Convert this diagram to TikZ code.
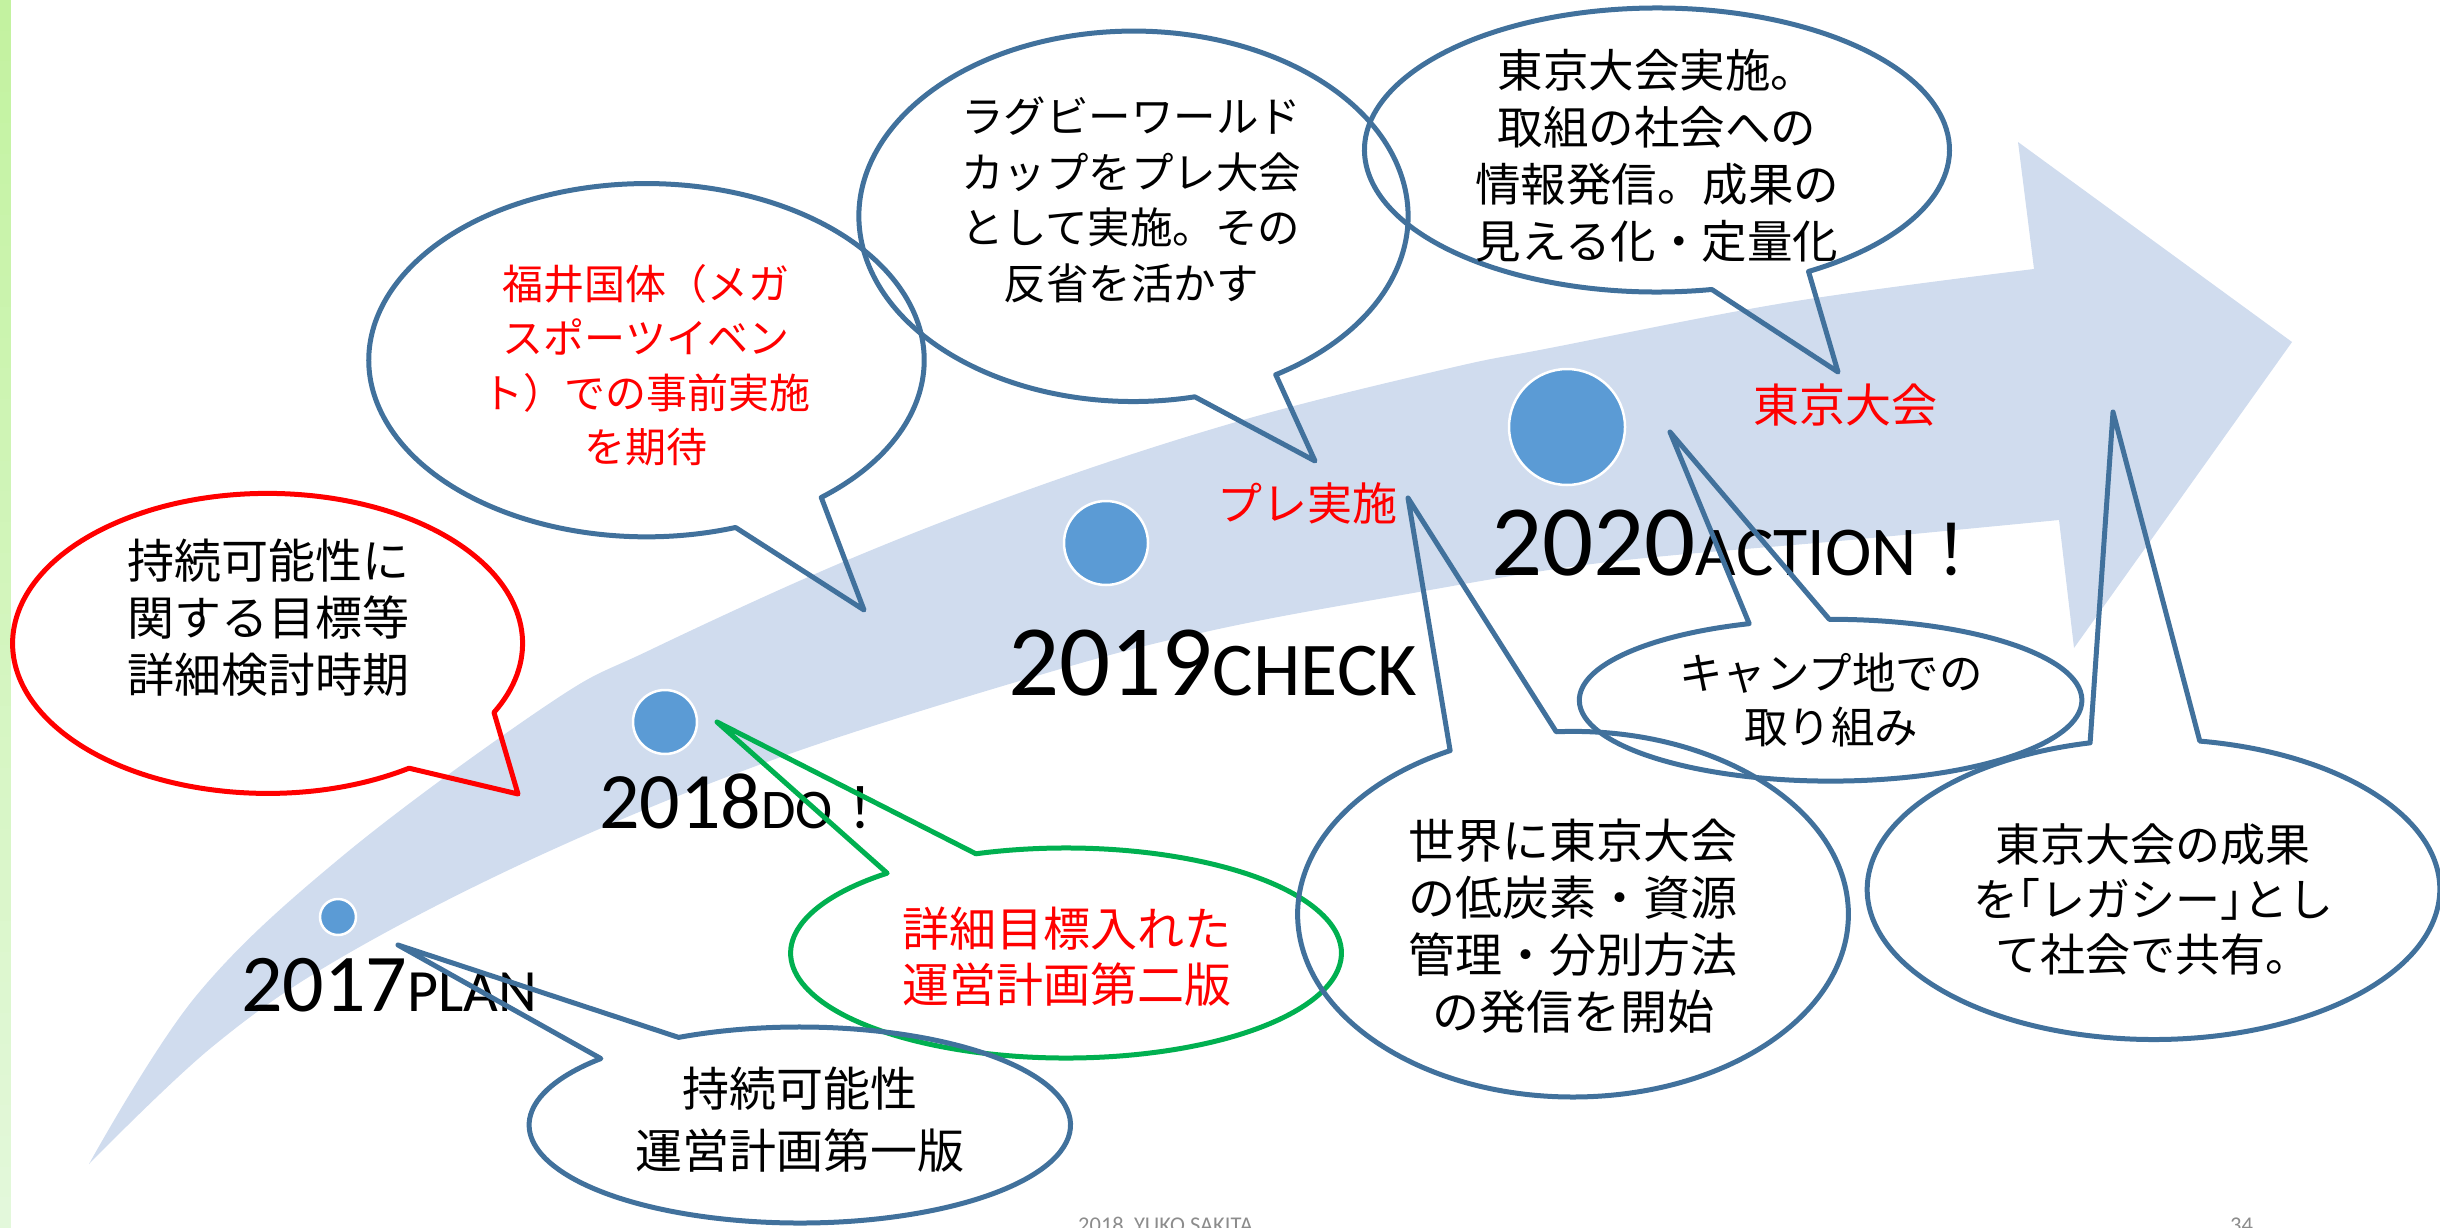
\documentclass[tikz,border=0pt]{standalone}
\usepackage{fontspec}
\setmainfont{Carlito}
\newfontfamily\jp{Noto Sans CJK JP}
\newfontfamily\latf{Carlito}
\definecolor{bandblue}{HTML}{D0DCEE}
\definecolor{dotblue}{HTML}{5B9BD5}
\definecolor{lineblue}{HTML}{41719C}
\definecolor{lred}{HTML}{FF0000}
\definecolor{lgreen}{HTML}{00B050}
\definecolor{striptop}{HTML}{C3F2A0}
\definecolor{stripbot}{HTML}{E4F8DC}
\definecolor{footgray}{HTML}{8C8C8C}
\newcommand\callshape[9]{\draw[#1] (#2,#3) ++(#6:#4 and #5) arc[start angle=#6, end angle=#7, x radius=#4, y radius=#5] -- (#8,#9) -- cycle;}
\newcommand\jfs[2]{\jp\fontsize{#1}{#2}\selectfont}
\begin{document}
\begin{tikzpicture}[x=1pt,y=1pt,yscale=-1,
  cblue/.style={draw=lineblue, line width=5pt, line join=round},
  cred/.style={draw=lred, line width=5pt, line join=round},
  cgreen/.style={draw=lgreen, line width=5pt, line join=round},
  dotnode/.style={circle, fill=dotblue, draw=white, line width=2.5pt, inner sep=0pt},
  jtext/.style={align=center, inner sep=0pt},
  yearlabel/.style={anchor=base west, inner sep=0pt}]
\useasboundingbox (0,0) rectangle (2440,1228);
\clip (0,0) rectangle (2440,1228);
% green strip
\foreach \i in {0,...,39} {
  \pgfmathsetmacro\pc{100-\i*2.5}
  \fill[striptop!\pc!stripbot] (0,{\i*30.7}) rectangle (11,{\i*30.7+31.5});
}
% band arrow
\fill[bandblue] plot[smooth, tension=0.6] coordinates {(89,1164) (196,996) (345,854) (550,703) (650,650) (850,559) (1050,482) (1250,418) (1450,368) (1550,348) (1790,302) (2034,269)}
  -- (2018,142) -- (2292,342) -- (2074,648) -- (2059,520)
  -- plot[smooth, tension=0.6] coordinates {(2059,520) (1850,540) (1600,563) (1396,596) (1214,630) (1050,672) (778,758) (543,854) (342,957) (212,1047) (89,1164)} -- cycle;
% dots
\node[dotnode, minimum size=36pt] (d17) at (338,917) {};
\node[dotnode, minimum size=64pt] (d18) at (665,722) {};
\node[dotnode, minimum size=84pt] (d19) at (1106,543) {};
\node[dotnode, minimum size=116pt] (d20) at (1567,427) {};
% year labels
\node[yearlabel] (y17) at (241,1011) {\latf\fontsize{82}{82}\selectfont 2017\fontsize{60}{60}\selectfont PLAN};
\node[yearlabel] (y18) at (599,828) {\latf\fontsize{80}{80}\selectfont 2018\fontsize{56}{56}\selectfont DO{\jp ！}};
\node[yearlabel] (y19) at (1008,695) {\latf\fontsize{101}{101}\selectfont 2019\fontsize{76}{76}\selectfont CHECK};
\node[yearlabel] (y20) at (1491,575) {\latf\fontsize{101}{101}\selectfont 2020\fontsize{70}{70}\selectfont ACTION{\jp ！}};
% callout shapes
\callshape{cred}{267.6}{643.4}{255}{150}{56.3}{387.4}{518}{794}
\callshape{cblue}{646.5}{360.2}{277.7}{176.6}{71.3}{411.0}{864}{610}
\callshape{cblue}{1133.5}{216.3}{274.6}{185.2}{77.1}{418.8}{1315}{461}
\callshape{cblue}{1657}{150}{292.5}{142}{79.2}{418.8}{1838}{372}
\callshape{cgreen}{1066}{953}{275.4}{105}{250.9}{589.5}{717}{722}
\callshape{cblue}{799.8}{1125}{270.7}{98}{243.4}{582.7}{398}{945}
\callshape{cblue}{1573}{914.2}{275.4}{182.8}{266.5}{603.5}{1408}{498}
\callshape{cblue}{1830.6}{700.2}{251.3}{80.9}{269.7}{611.1}{1670}{432}
\callshape{cblue}{2153.5}{889.3}{286.3}{150.2}{279.3}{617.2}{2113}{412}
% texts
\node[jtext, font={\jfs{47}{57}}] (t1) at (268,618) {持続可能性に\\関する目標等\\詳細検討時期};
\node[jtext, text=lred, font={\jfs{41}{54.5}}] (t2) at (646,365) {福井国体（メガ\\スポーツイベン\\ト）での事前実施\\を期待};
\node[jtext, font={\jfs{42.5}{55.5}}] (t3) at (1131,200) {ラグビーワールド\\カップをプレ大会\\として実施。その\\反省を活かす};
\node[jtext, font={\jfs{45.5}{57}}] (t4) at (1657,156) {東京大会実施。\\取組の社会への\\情報発信。成果の\\見える化・定量化};
\node[jtext, text=lred, font={\jfs{46}{50}}] (t5) at (1845,405) {東京大会};
\node[jtext, text=lred, font={\jfs{45}{50}}] (t6) at (1307,503) {プレ実施};
\node[jtext, text=lred, font={\jfs{47}{56}}] (t7) at (1067,957) {詳細目標入れた\\運営計画第二版};
\node[jtext, font={\jfs{47}{62}}] (t8) at (800,1120) {持続可能性\\運営計画第一版};
\node[jtext, font={\jfs{47}{57}}] (t9) at (1573,926) {世界に東京大会\\の低炭素・資源\\管理・分別方法\\の発信を開始};
\node[jtext, font={\jfs{43.5}{54.5}}] (t10) at (1831,700) {キャンプ地での\\取り組み};
\node[jtext, font={\jfs{45}{55}}] (t11) at (2153,899) {東京大会の成果\\を\makebox[0.5em][r]{「}レガシー\makebox[0.5em][l]{」}とし\\て社会で共有。};
% footer
\node[anchor=base west, inner sep=0pt, text=footgray] (f1) at (1078,1232) {\latf\fontsize{22.5}{25}\selectfont 2018\ \ YUKO SAKITA};
\node[anchor=base west, inner sep=0pt, text=footgray] (f2) at (2230,1232) {\latf\fontsize{22.5}{25}\selectfont 34};
\end{tikzpicture}
\end{document}
